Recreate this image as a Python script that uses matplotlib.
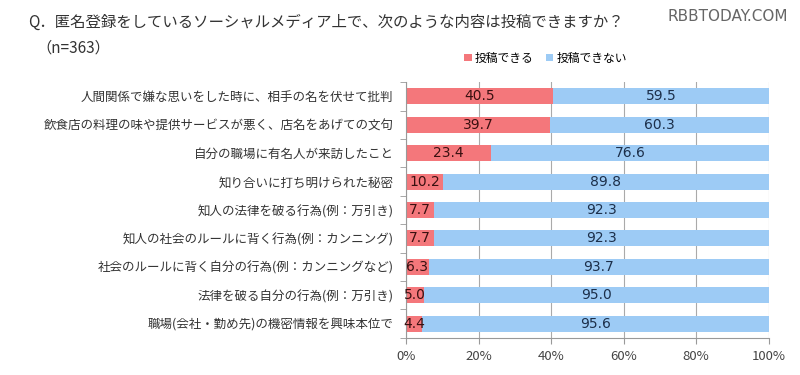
import numpy as np
import matplotlib
matplotlib.use("Agg")
import matplotlib.pyplot as plt

plt.rcParams['font.family'] = ['Noto Sans CJK JP', 'DejaVu Sans']

# data
categories = [
    "人間関係で嫌な思いをした時に、相手の名を伏せて批判",
    "飲食店の料理の味や提供サービスが悪く、店名をあげての文句",
    "自分の職場に有名人が来訪したこと",
    "知り合いに打ち明けられた秘密",
    "知人の法律を破る行為(例：万引き)",
    "知人の社会のルールに背く行為(例：カンニング)",
    "社会のルールに背く自分の行為(例：カンニングなど)",
    "法律を破る自分の行為(例：万引き)",
    "職場(会社・勤め先)の機密情報を興味本位で",
]
can_post = [40.5, 39.7, 23.4, 10.2, 7.7, 7.7, 6.3, 5.0, 4.4]
cannot_post = [59.5, 60.3, 76.6, 89.8, 92.3, 92.3, 93.7, 95.0, 95.6]
series_names = ["投稿できる", "投稿できない"]

red = "#F4777B"
blue = "#9DCBF5"

fig = plt.figure(figsize=(8, 3.75), dpi=100)
ax = fig.add_axes([0.5075, 0.099, 0.4535, 0.682])

y = np.arange(len(categories))
h = 0.56
b1 = ax.barh(y, can_post, height=h, color=red, label=series_names[0], zorder=2)
b2 = ax.barh(y, cannot_post, left=can_post, height=h, color=blue, label=series_names[1], zorder=2)

for i, (a, b) in enumerate(zip(can_post, cannot_post)):
    ax.text(a / 2, i, f"{a:.1f}", ha="center", va="center", fontsize=10,
            color="#3a1010", family=["DejaVu Sans"], zorder=3)
    ax.text(a + b / 2, i, f"{b:.1f}", ha="center", va="center", fontsize=10,
            color="#1c2f4a", family=["DejaVu Sans"], zorder=3)

ax.set_xlim(0, 100)
ax.set_ylim(len(categories) - 0.5, -0.5)
ax.set_xticks(np.arange(0, 101, 20))
ax.set_xticklabels([f"{v}%" for v in range(0, 101, 20)], fontsize=9.5, color="#444444")
ax.set_yticks(y)
ax.set_yticklabels(categories, fontsize=9, color="#333333")
ax.set_yticks(np.arange(-0.5, len(categories), 1), minor=True)
ax.tick_params(axis="y", which="major", length=0, pad=9)
ax.tick_params(axis="y", which="minor", length=4, color="#999999")
ax.tick_params(axis="x", length=4, color="#999999", pad=5)
ax.grid(axis="x", color="#aaaaaa", linewidth=0.8, zorder=0)
for s in ["top", "right"]:
    ax.spines[s].set_visible(False)
ax.spines["left"].set_color("#999999")
ax.spines["bottom"].set_color("#999999")

fig.text(0.035, 0.94, "Q．匿名登録をしているソーシャルメディア上で、次のような内容は投稿できますか？",
         fontsize=11.1, color="#333333", va="center")
fig.text(0.045, 0.872, "（n=363）", fontsize=11, color="#333333", va="center")
fig.text(0.985, 0.955, "RBBTODAY.COM", fontsize=11, color="#666666", ha="right", va="center",
         family=["DejaVu Sans"])

fig.legend(handles=[b1, b2], loc="center", bbox_to_anchor=(0.682, 0.845), ncol=2,
           frameon=False, fontsize=8.5, handlelength=0.6, handleheight=0.6,
           handletextpad=0.3, columnspacing=1.0)

fig.savefig("out.png", dpi=100)
